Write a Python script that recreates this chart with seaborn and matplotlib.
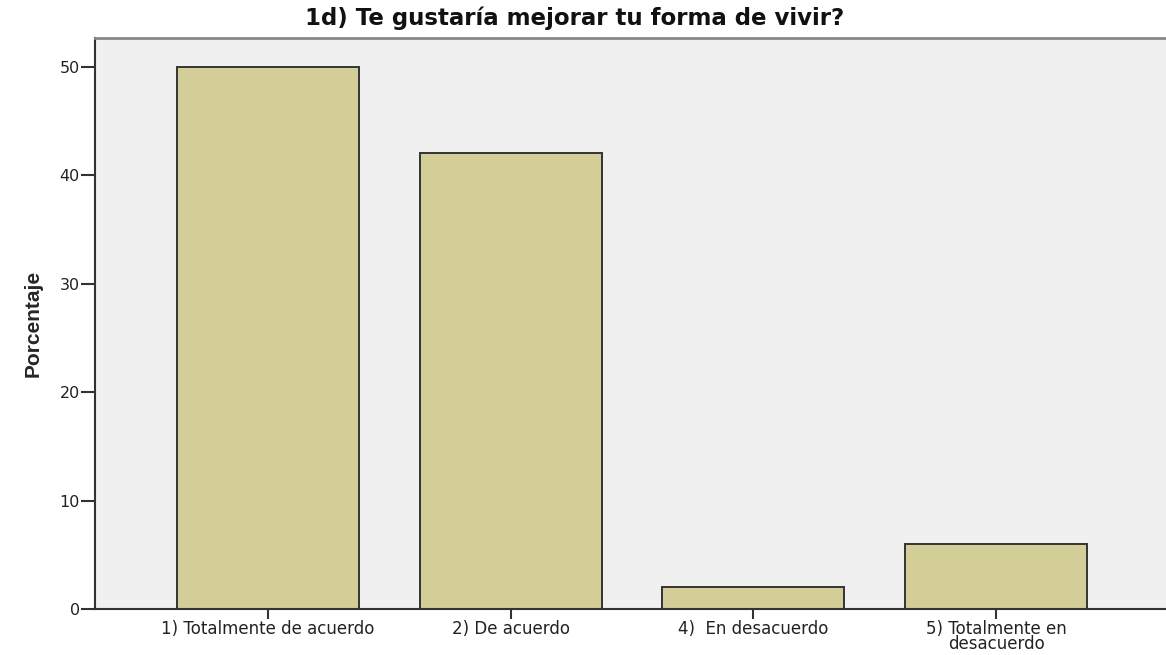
import matplotlib
matplotlib.use("Agg")
import matplotlib.pyplot as plt
import seaborn as sns
import pandas as pd

categories = ["1) Totalmente de acuerdo", "2) De acuerdo", "4)  En desacuerdo", "5) Totalmente en\ndesacuerdo"]
values = [50, 42, 2, 6]
yticks = [0, 10, 20, 30, 40, 50]
title = "1d) Te gustaría mejorar tu forma de vivir?"
ylabel = "Porcentaje"

sns.set_style("white")
plt.rcParams['font.family'] = ['DejaVu Sans']

df = pd.DataFrame({"cat": categories, "val": values})

fig = plt.figure(figsize=(11.66, 6.55), dpi=100)
ax = fig.add_axes([0.0815, 0.0702, 0.9185, 0.8722])
ax.set_facecolor("#F0F0F0")

sns.barplot(data=df, x="cat", y="val", ax=ax, color="#D3CE97", width=0.75,
            edgecolor="#333333", linewidth=1.4, saturation=1)

ax.set_xlim(-0.713, 3.70)
ax.set_ylim(0, 52.66)
ax.set_yticks(yticks)
ax.set_yticklabels([str(t) for t in yticks], fontsize=11.5, color="#222222")
ax.set_xticks(range(len(categories)))
ax.set_xticklabels(categories, fontsize=12, color="#222222", linespacing=0.8)
ax.tick_params(axis="y", left=True, direction="out", length=10, width=1.5, color="#333333", pad=1)
ax.tick_params(axis="x", bottom=True, direction="out", length=7, width=1.5, color="#333333", pad=1)

for s in ["left", "bottom", "top"]:
    ax.spines[s].set_visible(True)
    ax.spines[s].set_color("#333333")
    ax.spines[s].set_linewidth(1.5)
ax.spines["right"].set_visible(False)
ax.spines["top"].set_color("#888888")
ax.spines["top"].set_linewidth(2)

ax.set_xlabel("")
ax.set_ylabel(ylabel, fontsize=15, fontweight="bold",
              family=['Liberation Sans Narrow', 'Liberation Sans', 'DejaVu Sans'], labelpad=12)
fig.text(575 / 1166, 1 - 18 / 655, title, fontsize=16.5, fontweight="bold",
         ha="center", va="center", color="#111111")

fig.savefig("out.png", dpi=100)
